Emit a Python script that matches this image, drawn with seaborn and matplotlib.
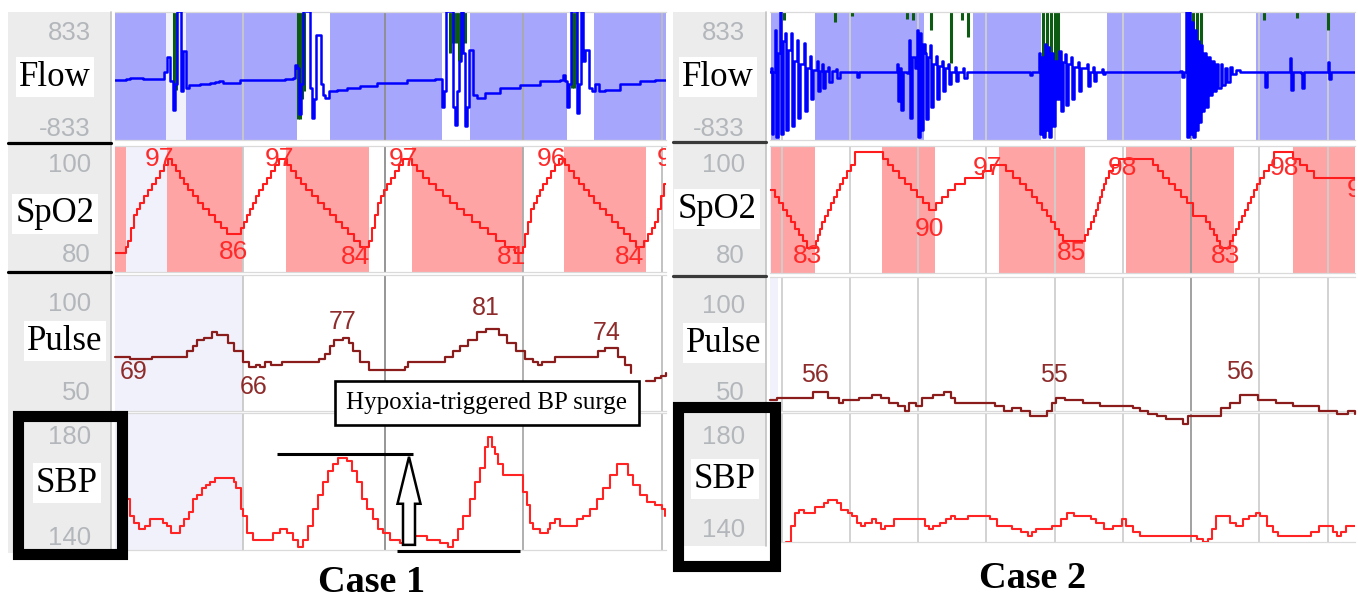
import matplotlib
matplotlib.use("Agg")
import matplotlib.pyplot as plt
import seaborn as sns
from matplotlib.patches import Rectangle, FancyArrow
from matplotlib.lines import Line2D

W, H = 1358, 600

# ---------------- channel set-up (both recordings) ----------------
channels = ["Flow", "SpO2", "Pulse", "SBP"]
ch_lims = [(-833, 833), (80, 100), (50, 100), (140, 180)]
ch_tick_text = [("833", "-833"), ("100", "80"), ("100", "50"), ("180", "140")]

# ---------------- Case 1 (time in samples) ----------------
c1_grid_t = [128, 270, 408, 547]
c1_flow_band_start = [0, 71, 215, 355, 479]
c1_flow_band_end = [51, 182, 327, 452, 551]
c1_spo2_band_start = [0, 52, 171, 297, 449]
c1_spo2_band_end = [11, 128, 254, 408, 531]

c1_flow_t = [0, 11, 15, 28, 45, 49, 52, 55, 58, 60,
             62, 65, 66, 68, 70, 71, 74, 85, 95, 100,
             104, 108, 125, 150, 170, 178, 180, 182, 184, 186,
             188, 192, 195, 197, 199, 201, 204, 206, 208, 210,
             214, 222, 232, 245, 262, 292, 320, 325, 327, 329,
             331, 336, 338, 340, 342, 344, 346, 348, 350, 352,
             354, 356, 358, 362, 370, 385, 405, 425, 445, 448,
             450, 452, 454, 456, 460, 462, 464, 466, 468, 470,
             472, 474, 477, 480, 484, 490, 505, 525, 540, 551]
c1_flow_v = [-52, -45, -30, -45, -45, 50, 250, -60, -440, -100,
             840, 840, -200, 330, 330, -150, -120, -110, -95, -80,
             -60, -95, -55, -55, -40, -30, 140, 100, -500, -100,
             840, 840, -150, -550, -300, 530, 530, -100, -250, -280,
             -200, -180, -160, -130, -95, -55, -45, -45, -400, -200,
             840, 840, -400, -640, -200, 200, 840, 300, -650, -400,
             340, 340, -250, -280, -220, -160, -120, -70, -50, 13,
             -60, -400, -100, 840, 840, -480, -100, 840, 200, 340,
             340, -150, -200, -100, -190, -180, -100, -60, -52, -52]
c1_green_t = [59, 61, 183, 185, 187, 189, 335, 338, 341, 344, 347, 350, 457, 459, 461]
c1_green_lo = [-180, -180, -560, -560, -300, -200, 300, 425, 425, 200, 425, 425, -160, -160, -100]

c1_spo2_t = [0, 11, 13, 16, 19, 22, 25, 29, 33, 37, 41, 45, 49, 53,
             57, 61, 65, 69, 73, 78, 83, 88, 94, 100, 106, 112,
             126, 129, 132, 135, 138, 141, 144, 148, 152, 156, 160, 164,
             172, 176, 181, 186, 191, 197, 203, 209, 215, 221, 227, 233, 239, 245,
             254, 257, 260, 263, 266, 269, 272, 276, 280, 284, 288,
             297, 302, 308, 314, 321, 328, 335, 342, 349, 357, 365, 373, 381, 390, 400,
             408, 410, 413, 416, 419, 422, 425, 428, 432, 436, 440, 444,
             450, 454, 459, 464, 469, 474, 479, 485, 491, 497, 503, 509, 515, 521,
             529, 533, 537, 540, 543, 546, 549, 551]
c1_spo2_v = [83, 84, 85, 87, 89, 90, 91, 92, 93, 94, 95, 96, 97, 98,
             97, 96, 95, 94, 93, 92, 91, 90, 89, 88, 87, 86,
             87, 88, 89, 90, 91, 92, 93, 94, 95, 96, 97, 98,
             97, 96, 95, 94, 93, 92, 91, 90, 89, 88, 87, 86, 85, 84,
             85, 87, 89, 91, 92, 93, 94, 95, 96, 97, 98,
             97, 96, 95, 94, 93, 92, 91, 90, 89, 88, 87, 86, 85, 84, 83,
             84, 86, 88, 90, 91, 92, 93, 94, 95, 96, 97, 98,
             97, 96, 95, 94, 93, 92, 91, 90, 89, 88, 87, 86, 85, 84,
             85, 86, 87, 88, 90, 92, 94, 94]
c1_spo2_lbl = ["97", "86", "97", "84", "97", "81", "96", "84", "97"]
c1_spo2_lbl_t = [45, 119, 165, 241, 288, 397, 436, 514, 557]
c1_spo2_lbl_v = [98.0, 83.2, 98.0, 82.4, 98.0, 82.4, 98.0, 82.4, 98.0]

c1_pulse_t = [0, 11, 15, 24, 32, 37, 69, 72, 78, 82, 89, 97,
              102, 108, 113, 119, 128, 134, 141, 145, 150, 156, 162, 167,
              197, 204, 210, 215, 219, 228, 234, 238, 245, 254, 262, 267,
              290, 293, 327, 330, 338, 345, 353, 362, 371, 377, 384, 392,
              401, 410, 418, 423, 427, 434, 440, 479, 483, 490, 496, 503,
              510, 516]
c1_pulse_v = [70, 70, 69, 69, 69, 70, 70, 72, 74, 76, 77, 79,
              78, 78, 75, 72, 68, 66, 67, 66, 68, 67, 67, 68,
              68, 69, 71, 74, 76, 77, 75, 72, 68, 65, 65, 65,
              66, 68, 68, 70, 72, 74, 76, 79, 80, 80, 78, 75,
              72, 69, 68, 67, 68, 68, 70, 70, 72, 73, 73, 70,
              67, 64]
c1_pulse_tail_t = [531, 540, 546, 551]
c1_pulse_tail_v = [61, 62, 63, 64]
c1_pulse_lbl = ["69", "66", "77", "81", "74"]
c1_pulse_lbl_t = [19, 139, 228, 371, 492]
c1_pulse_lbl_v = [64.4, 58.9, 82.8, 87.7, 78.6]

c1_sbp_t = [11, 15, 19, 24, 30, 35, 41, 48, 52, 56,
            61, 65, 69, 74, 78, 82, 87, 91, 95, 100,
            119, 121, 126, 128, 132, 138, 148, 158, 165, 172,
            178, 183, 188, 193, 198, 203, 208, 213, 218, 223,
            232, 237, 242, 247, 252, 258, 263, 268, 275, 285,
            298, 312, 325, 333, 338, 343, 348, 355, 360, 365,
            370, 373, 377, 380, 383, 388, 395, 407, 408, 412,
            415, 418, 425, 433, 435, 440, 445, 455, 462, 468,
            475, 482, 488, 495, 502, 508, 513, 518, 525, 532,
            540, 547, 550]
c1_sbp_v = [155, 150, 148, 146, 147, 149, 149, 148, 147, 145,
            145, 147, 149, 151, 155, 156, 158, 159, 160, 161,
            160, 158, 152, 150, 145, 143, 143, 145, 146, 145,
            143, 141, 143, 147, 152, 156, 160, 163, 165, 167,
            166, 163, 160, 155, 152, 149, 146, 145, 143, 142,
            144, 143, 142, 141, 143, 146, 150, 155, 160, 164,
            170, 173, 170, 168, 165, 162, 162, 162, 157, 153,
            148, 146, 145, 146, 148, 149, 147, 147, 149, 150,
            152, 155, 158, 162, 165, 165, 162, 159, 156, 154,
            153, 152, 150]
# baseline / surge markers of the annotated cycle
c1_surge_base = 139.7
c1_surge_peak = 168
c1_surge_arrow_t = 294

# ---------------- Case 2 ----------------
c2_grid_t = [12, 80, 148, 216, 285, 353, 421, 489, 558]
c2_flow_band_start = [1, 45, 203, 337, 486]
c2_flow_band_end = [10, 154, 271, 411, 585]
c2_spo2_band_start = [1, 112, 229, 356, 523]
c2_spo2_band_end = [45, 165, 315, 464, 585]

c2_flow_t = [0, 1, 2, 3, 5, 6, 8, 10, 11, 13, 15, 16, 18, 21, 22, 24, 27, 28, 30, 34,
             35, 37, 40, 41, 43, 47, 48, 50, 52, 53, 55, 58, 59, 62, 66, 67, 70, 86, 87, 89, 125,
             127, 128, 130, 131, 133, 137, 139, 140, 142, 145, 147, 148, 150, 151, 153, 155, 156,
             158, 160, 161, 163, 166, 167, 169, 172, 173, 175, 178, 179, 181, 185, 186, 188, 193,
             194, 197, 258, 260, 262,
             268, 269, 270, 272, 273, 275, 276, 278, 279, 281, 283, 285, 287, 289, 291, 293, 295,
             296, 298, 301, 302, 304, 308, 309, 311, 317, 318, 320, 323, 324, 326, 332, 333, 335, 409,
             410, 412, 414, 416, 417, 419, 420, 422, 423, 425, 426, 428, 429, 431, 432, 434, 436,
             438, 440, 442, 444, 446, 448, 451, 452, 455, 457, 460, 462, 466, 470, 484,
             494, 495, 497, 519, 520, 521, 523, 531, 532, 534, 557, 558, 559, 561, 585]
c2_flow_v = [56, 100, -750, 50, 600, -790, 300, 833, -750, 450, 560, -700, 340, 560, -650, 200, 470, -550, 150, 430,
             -450, 100, 260, -300, 80, 200, -200, 70, 150, -150, 60, 120, -80, 60, 90, -30, 56, 56, -10, 56, 56,
             150, -330, 100, -440, 56, 40, 470, -550, 250, 100, 600, -790, 560, -700, 420, 300, -560,
             250, 400, -400, 150, 260, -300, 130, 200, -200, 100, 160, -100, 56, 120, -60, 56, 100,
             -30, 56, 56, 10, 56,
             56, 300, -750, 250, -790, 420, -700, 380, -790, 300, -650, 200, -300, 330, -450, 180, 280,
             -380, 150, 250, -300, 120, 180, -200, 100, 150, -130, 56, 120, -60, 56, 90, 20, 56, 56,
             60, -10, 56, 833, -790, 833, -750, 700, -790, 600, -700, 450, -600, 400, -450, 300, -400,
             250, -250, 200, -200, 150, -150, 150, -120, 100, -80, 120, 20, 80, 56, 56,
             56, -140, 56, 56, 230, -180, 56, 40, -160, 56, 56, 180, -40, 56, 56]
c2_green_t = [14, 65, 82, 137, 143, 161, 181, 192, 198, 273, 277, 281, 285, 288,
              419, 423, 427, 431, 494, 527, 558]
c2_green_lo = [729, 700, 780, 740, 729, 600, 165, 729, 510, 121, 121, 121, 121, 121,
               -95, -95, -95, -95, 729, 760, 599]

c2_spo2_t = [0, 5, 9, 13, 17, 21, 25, 29, 33, 37,
             46, 48, 50, 52, 55, 58, 61, 64, 67, 70, 73, 77, 81, 85,
             113, 118, 123, 129, 135, 141, 147, 153, 159,
             166, 172, 178, 185, 195, 213, 221,
             236, 243, 250, 256, 262, 267, 272, 277, 281, 285, 289, 293,
             315, 318, 321, 324, 326, 328, 330, 332, 334, 336, 339, 343, 349,
             383, 388, 393, 399, 405, 411, 417, 423, 436, 440, 444, 447, 450,
             460, 463, 466, 469, 472, 475, 478, 481, 484, 487, 490, 494, 499, 504,
             523, 530, 537, 544, 585]
c2_spo2_v = [93, 92, 91, 90, 89, 88, 87, 86, 85, 84,
             85, 86, 87, 88, 89, 90, 91, 92, 93, 94, 95, 96, 97, 99,
             98, 97, 96, 95, 94, 93, 92, 91, 90,
             91, 92, 93, 94, 95, 96, 97,
             96, 95, 94, 93, 92, 91, 90, 89, 88, 87, 86, 85,
             86, 87, 88, 89, 90, 91, 92, 93, 94, 95, 96, 97, 98,
             97, 96, 95, 94, 93, 92, 91, 89, 88, 87, 86, 85, 84,
             85, 86, 87, 88, 89, 90, 91, 92, 93, 94, 95, 96, 97, 99,
             98, 97, 96, 95, 95]
c2_spo2_lbl = ["83", "90", "97", "85", "98", "83", "98", "97"]
c2_spo2_lbl_t = [38, 159, 218, 301, 352, 455, 514, 592]
c2_spo2_lbl_v = [82.7, 86.9, 96.5, 83.2, 96.5, 82.7, 96.5, 93.0]

c2_pulse_t = [0, 7, 40, 43, 54, 58, 69, 73, 80, 89,
              102, 111, 119, 128, 135, 139, 146, 152, 163, 174,
              181, 185, 207, 216, 225, 234, 242, 251, 260, 271,
              277, 282, 286, 295, 313, 330, 352, 363, 370, 378,
              387, 396, 405, 413, 418, 422, 446, 451, 460, 470,
              488, 506, 523, 541, 549, 558, 567, 578, 585]
c2_pulse_v = [54, 55, 55, 57, 57, 55, 53, 54, 54, 55,
              56, 55, 53, 52, 50, 53, 52, 55, 56, 57,
              55, 53, 53, 53, 52, 50, 51, 50, 48, 48,
              50, 53, 55, 54, 53, 52, 52, 51, 50, 49,
              48, 47, 47, 45, 48, 48, 48, 51, 53, 56,
              54, 53, 52, 52, 50, 50, 49, 50, 49]
c2_pulse_lbl = ["56", "55", "56"]
c2_pulse_lbl_t = [45, 284, 470]
c2_pulse_lbl_v = [63.4, 63.4, 64.6]

c2_sbp_t = [16, 21, 25, 29, 34, 40, 45, 49, 54, 58,
            62, 67, 71, 78, 82, 87, 91, 95, 102, 106,
            111, 115, 124, 150, 155, 159, 163, 170, 176, 181,
            185, 198, 216, 220, 227, 234, 242, 251, 258, 262,
            266, 277, 282, 291, 297, 304, 317, 321, 326, 334,
            343, 352, 356, 363, 370, 378, 422, 427, 433, 438,
            442, 446, 453, 460, 466, 473, 479, 486, 490, 497,
            503, 508, 514, 536, 541, 549, 558, 563, 567, 571,
            576, 585]
c2_sbp_v = [140, 145, 149, 150, 149, 149, 151, 151, 152, 153,
            153, 152, 150, 149, 148, 146, 145, 146, 147, 146,
            144, 145, 147, 147, 145, 144, 145, 146, 147, 148,
            147, 148, 148, 147, 145, 145, 144, 143, 142, 143,
            144, 144, 145, 147, 149, 148, 148, 147, 146, 144,
            145, 147, 145, 143, 142, 142, 142, 141, 140, 141,
            144, 148, 148, 146, 145, 147, 148, 149, 148, 145,
            143, 142, 142, 142, 143, 145, 145, 143, 142, 143,
            145, 145]

# ---------------- styling ----------------
sns.set_theme(style="white")
SANS = ["Liberation Sans", "DejaVu Sans"]
SERIF = ["Liberation Serif", "DejaVu Serif"]
plt.rcParams["font.family"] = SANS

FLOW_BAND = "#a6a6fc"
SPO2_BAND = "#ffa4a4"
LAVENDER = "#f1f1fb"
TICK_GRAY = "#b3b7bb"

tick_dy_top = [-21, -19, -29, -24]
tick_dy_bot = [11, 17, 18, 12]

cases = [
    dict(left=115, right=666, xmax=551,
         rows=[(12, 140), (146, 272), (275, 411), (413, 550)],
         col=(8, 111, 12, 553), seps=[143, 272], sep_color="black",
         label_xy=[(55, 77), (55, 214), (65, 341), (67, 483)], tick_dx=24,
         box=(18, 122, 416, 554), title=("Case 1", 372, 582),
         grid=c1_grid_t, grid_colors=["#c9c9c9", "#8d8d8d", "#a9a9a9", "#bdbdbd"],
         flow=(c1_flow_t, c1_flow_v), green=(c1_green_t, c1_green_lo),
         flow_bands=(c1_flow_band_start, c1_flow_band_end),
         spo2=(c1_spo2_t, c1_spo2_v), spo2_bands=(c1_spo2_band_start, c1_spo2_band_end),
         spo2_lbl=(c1_spo2_lbl, c1_spo2_lbl_t, c1_spo2_lbl_v),
         pulse=[(c1_pulse_t, c1_pulse_v), (c1_pulse_tail_t, c1_pulse_tail_v)],
         pulse_lbl=(c1_pulse_lbl, c1_pulse_lbl_t, c1_pulse_lbl_v),
         sbp=(c1_sbp_t, c1_sbp_v), lavender=128),
    dict(left=770, right=1355, xmax=585,
         rows=[(12, 140), (146, 273), (277, 411), (413, 542)],
         col=(673, 766, 12, 546), seps=[142, 276], sep_color="#3a3a3a",
         label_xy=[(718, 77), (717, 209), (724, 343), (725, 479)], tick_dx=25,
         box=(678, 775, 407, 566), title=("Case 2", 1033, 578),
         grid=c2_grid_t, grid_colors=["#cfcfcf"] * 6 + ["#9a9a9a", "#cfcfcf", "#cfcfcf"],
         flow=(c2_flow_t, c2_flow_v), green=(c2_green_t, c2_green_lo),
         flow_bands=(c2_flow_band_start, c2_flow_band_end),
         spo2=(c2_spo2_t, c2_spo2_v), spo2_bands=(c2_spo2_band_start, c2_spo2_band_end),
         spo2_lbl=(c2_spo2_lbl, c2_spo2_lbl_t, c2_spo2_lbl_v),
         pulse=[(c2_pulse_t, c2_pulse_v)],
         pulse_lbl=(c2_pulse_lbl, c2_pulse_lbl_t, c2_pulse_lbl_v),
         sbp=(c2_sbp_t, c2_sbp_v), lavender=8),
]

fig = plt.figure(figsize=(W / 100, H / 100), dpi=100)
fig.patch.set_facecolor("white")


def fx(x):
    return x / W


def fy(y):
    return 1 - y / H


for cfg in cases:
    # grey channel-name column
    cx0, cx1, cy0, cy1 = cfg["col"]
    fig.add_artist(Rectangle((fx(cx0), fy(cy1)), (cx1 - cx0) / W, (cy1 - cy0) / H,
                             transform=fig.transFigure, facecolor="#ececec",
                             edgecolor="none", zorder=-1))
    fig.add_artist(Line2D([fx(cx1), fx(cx1)], [fy(cy0), fy(cy1)], color="#c2c2c2",
                          lw=1.2, transform=fig.transFigure, zorder=-0.5))
    for ys in cfg["seps"]:
        fig.add_artist(Line2D([fx(cx0), fx(cx1)], [fy(ys), fy(ys)], color=cfg["sep_color"],
                              lw=2.3, transform=fig.transFigure, zorder=1))

    axes = []
    for r, (y0, y1) in enumerate(cfg["rows"]):
        ax = fig.add_axes([fx(cfg["left"]), fy(y1), (cfg["right"] - cfg["left"]) / W, (y1 - y0) / H])
        ax.set_facecolor("white")
        for s in ["left", "right"]:
            ax.spines[s].set_visible(False)
        for s in ["top", "bottom"]:
            ax.spines[s].set_color("#dadada")
            ax.spines[s].set_linewidth(0.9)
        if r == 2:
            ax.set_zorder(2)
        if r > 0 or cfg["lavender"] > 10:
            ax.axvspan(0, cfg["lavender"], color=LAVENDER, lw=0, zorder=0.2)
        for t, c in zip(cfg["grid"], cfg["grid_colors"]):
            ax.axvline(t, color=c, lw=1.3, zorder=1.5)
        top_txt, bot_txt = ch_tick_text[r]
        lo, hi = ch_lims[r]
        ax.annotate(top_txt, xy=(0, hi), xycoords=ax.get_yaxis_transform(),
                    xytext=(-cfg["tick_dx"], tick_dy_top[r]), textcoords="offset pixels",
                    ha="right", va="center", fontsize=18.5, color=TICK_GRAY, annotation_clip=False)
        ax.annotate(bot_txt, xy=(0, lo), xycoords=ax.get_yaxis_transform(),
                    xytext=(-cfg["tick_dx"], tick_dy_bot[r]), textcoords="offset pixels",
                    ha="right", va="center", fontsize=18.5, color=TICK_GRAY, annotation_clip=False)
        lx, ly = cfg["label_xy"][r]
        fig.text(fx(lx), fy(ly), channels[r], ha="center", va="center", fontsize=25,
                 family=SERIF, color="black", zorder=4,
                 bbox=dict(boxstyle="square,pad=0.1", facecolor="white", edgecolor="none"))
        axes.append(ax)

    ax_flow, ax_spo2, ax_pulse, ax_sbp = axes

    # Flow
    for s, e in zip(*cfg["flow_bands"]):
        ax_flow.axvspan(s, e, color=FLOW_BAND, lw=0, zorder=0.5)
    gt, glo = cfg["green"]
    ax_flow.vlines(gt, glo, [833] * len(gt), color="#0d5a12", lw=2.2, zorder=2)
    sns.lineplot(x=cfg["flow"][0], y=cfg["flow"][1], ax=ax_flow, color="#0000ff",
                 linewidth=1.8, estimator=None, sort=False, drawstyle="steps-post", zorder=3)

    # SpO2
    for s, e in zip(*cfg["spo2_bands"]):
        ax_spo2.axvspan(s, e, color=SPO2_BAND, lw=0, zorder=0.5)
    sns.lineplot(x=cfg["spo2"][0], y=cfg["spo2"][1], ax=ax_spo2, color="#ff1c1c",
                 linewidth=1.5, estimator=None, sort=False, drawstyle="steps-post", zorder=3)
    for s, t, v in zip(*cfg["spo2_lbl"]):
        ax_spo2.text(t, v, s, ha="center", va="center", fontsize=19, color="#ff2a2a",
                     clip_on=True, zorder=4)

    # Pulse
    for pt, pv in cfg["pulse"]:
        sns.lineplot(x=pt, y=pv, ax=ax_pulse, color="#8b1c1c", linewidth=1.6,
                     estimator=None, sort=False, drawstyle="steps-post", clip_on=False, zorder=3)
    for s, t, v in zip(*cfg["pulse_lbl"]):
        ax_pulse.text(t, v, s, ha="center", va="center", fontsize=18, color="#8e2b2b", zorder=4)

    # SBP
    sns.lineplot(x=cfg["sbp"][0], y=cfg["sbp"][1], ax=ax_sbp, color="#ff2323",
                 linewidth=1.5, estimator=None, sort=False, drawstyle="steps-post", zorder=3)

    for r, ax in enumerate(axes):
        ax.set_xlim(0, cfg["xmax"])
        ax.set_ylim(*ch_lims[r])
        ax.set_xticks([])
        ax.set_yticks([])
        ax.set_xlabel("")
        ax.set_ylabel("")

    # thick frame around the SBP channel name
    bx0, bx1, by0, by1 = cfg["box"]
    fig.add_artist(Rectangle((fx(bx0), fy(by1)), (bx1 - bx0) / W, (by1 - by0) / H,
                             transform=fig.transFigure, fill=False, edgecolor="black",
                             linewidth=8, zorder=5))
    title, tx, ty = cfg["title"]
    fig.text(fx(tx), fy(ty), title, ha="center", va="center", fontsize=27.5,
             fontweight="bold", family=SERIF, color="black")

    cfg["axes"] = axes

# surge annotation on case 1
ax_sbp1 = cases[0]["axes"][3]
ax_sbp1.hlines(c1_surge_peak, 162, 298, color="black", lw=2.2, clip_on=False, zorder=5)
ax_sbp1.hlines(c1_surge_base, 282, 405, color="black", lw=2.2, clip_on=False, zorder=5)
ax_sbp1.add_patch(FancyArrow(c1_surge_arrow_t, 141.5, 0, c1_surge_peak - 0.8 - 141.5,
                             width=12, head_width=23, head_length=13.7,
                             length_includes_head=True, facecolor="white",
                             edgecolor="black", linewidth=1.8, clip_on=False, zorder=6))
fig.text(fx(487), fy(403), "Hypoxia-triggered BP surge", ha="center", va="center",
         fontsize=18, family=SERIF, color="black", zorder=7,
         bbox=dict(boxstyle="square,pad=0.45", facecolor="white", edgecolor="black", linewidth=1.9))

fig.savefig("out.png", dpi=100)
